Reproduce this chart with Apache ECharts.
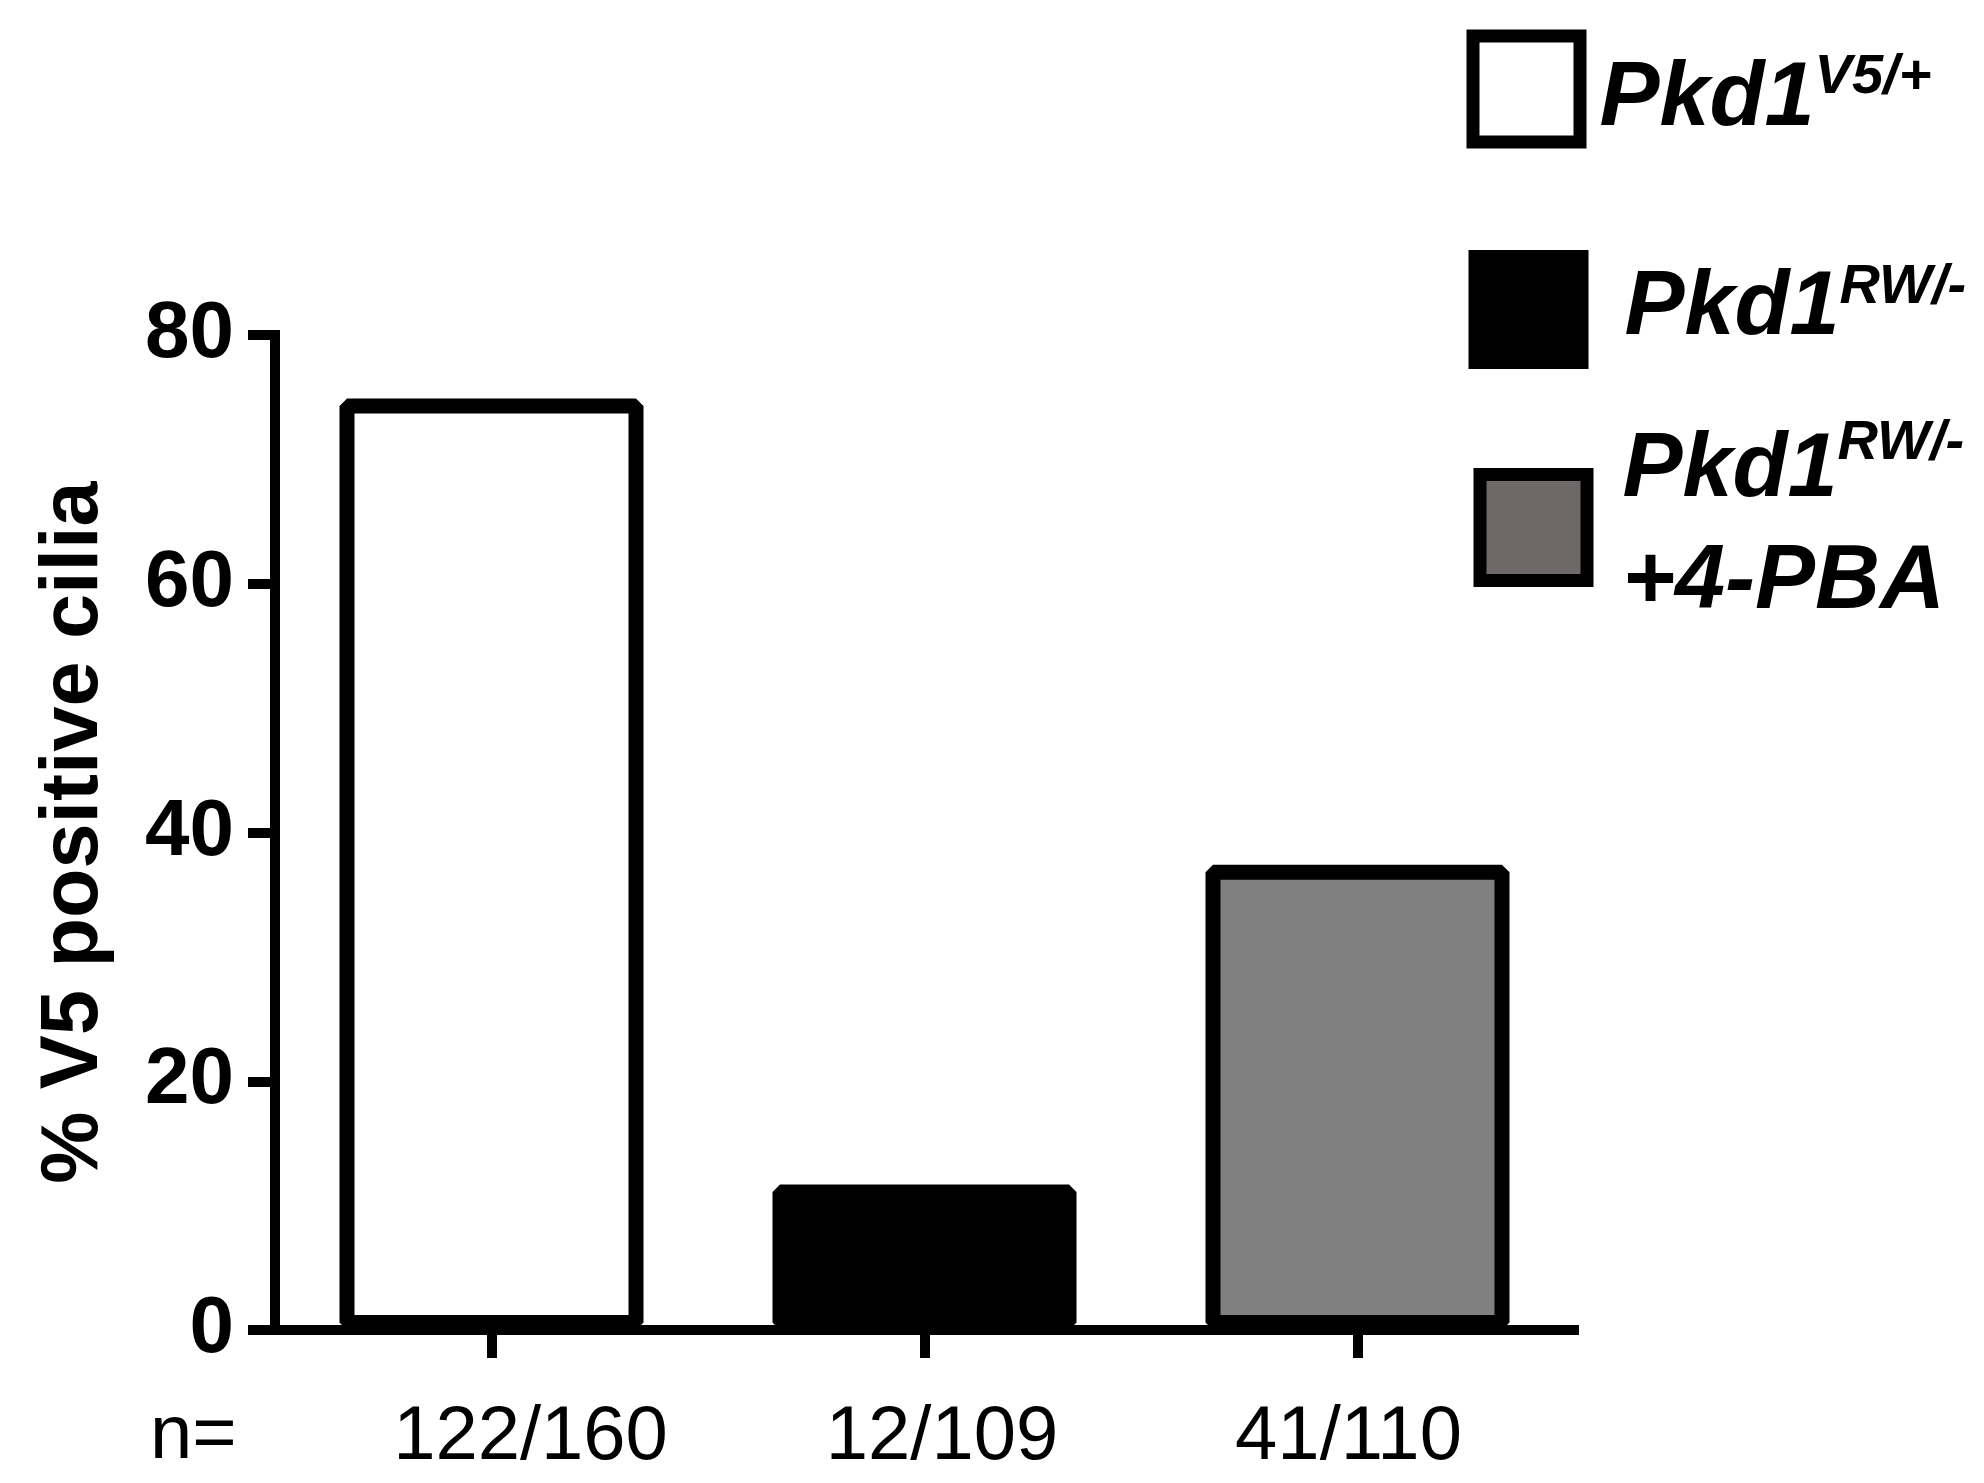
<!DOCTYPE html>
<html>
<head>
<meta charset="utf-8">
<script src="https://cdn.jsdelivr.net/npm/echarts@6/dist/echarts.min.js"></script>
<style>
html,body{margin:0;padding:0;background:#fff;}
#c{width:1984px;height:1483px;}
</style>
</head>
<body>
<div id="c"></div>
<script>
// ---- data ----
var categories = ['122/160', '12/109', '41/110'];
var seriesNames = ['Pkd1V5/+', 'Pkd1RW/-', 'Pkd1RW/- +4-PBA'];
var values = [74.9, 11.7, 37.4];
var yTicks = [0, 20, 40, 60, 80];
var yAxisName = '% V5 positive cilia';
var nPrefix = 'n=';

var FONT = '"Liberation Sans", Arial, Helvetica, sans-serif';
var fills = ['#ffffff', '#000000', '#808080'];
var legendFills = ['#ffffff', '#000000', '#6e6968'];

var chart = echarts.init(document.getElementById('c'), null, {renderer: 'canvas'});

var series = seriesNames.map(function (name, i) {
  return {
    name: name,
    type: 'bar',
    barWidth: 304,
    barGap: '-100%',
    data: categories.map(function (c, j) { return j === i ? values[j] : null; }),
    itemStyle: {
      color: fills[i],
      borderColor: '#000',
      borderWidth: 15,
      borderJoin: 'bevel'
    },
    emphasis: {disabled: true}
  };
});

function legendCfg(idx, left, top, padLeft, padTop, mainLH, supLH, text) {
  return {
    data: [{name: seriesNames[idx], itemStyle: {color: legendFills[idx], borderColor: '#000', borderWidth: 13, borderJoin: 'miter'}}],
    left: left,
    top: top,
    padding: 0,
    orient: 'vertical',
    icon: 'rect',
    itemWidth: 107,
    itemHeight: 106,
    selectedMode: false,
    formatter: function () { return text; },
    textStyle: {
      padding: [padTop, 0, 0, padLeft],
      color: '#000',
      rich: {
        m: {fontFamily: FONT, fontSize: 90, fontWeight: 'bold', fontStyle: 'italic', lineHeight: mainLH, verticalAlign: 'middle', color: '#000'},
        s: {fontFamily: FONT, fontSize: 56, fontWeight: 'bold', fontStyle: 'italic', lineHeight: supLH, verticalAlign: 'top', color: '#000'}
      }
    }
  };
}

var labelPads = [[0, 0, 0, 78], [0, 0, 0, 35], [0, 18, 0, 0]];
var richX = {};
categories.forEach(function (c, i) {
  richX['l' + i] = {fontFamily: FONT, fontSize: 76, color: '#000', padding: labelPads[i]};
});

var option = {
  animation: false,
  backgroundColor: '#fff',
  grid: {left: 275, right: 410, top: 335, bottom: 153, containLabel: false},
  legend: [
    legendCfg(0, 1466.5, 29.5, 14.5, 22, 100, 80, '{m|Pkd1}{s|V5/+}'),
    legendCfg(1, 1468.5, 250, 37.5, 0, 100, 80, '{m|Pkd1}{s|RW/-}'),
    legendCfg(2, 1473.5, 415.5, 30.5, 0, 112, 92, '{m|Pkd1}{s|RW/-}\n{m|+4-PBA}')
  ],
  xAxis: {
    type: 'category',
    data: categories,
    axisLine: {show: true, lineStyle: {color: '#000', width: 10, cap: 'square'}},
    axisTick: {show: true, alignWithLabel: true, length: 28, lineStyle: {color: '#000', width: 10}},
    axisLabel: {
      margin: 70,
      interval: 0,
      formatter: function (v, i) { return '{l' + i + '|' + v + '}'; },
      rich: richX
    },
    splitLine: {show: false}
  },
  yAxis: {
    type: 'value',
    min: yTicks[0],
    max: yTicks[yTicks.length - 1],
    interval: yTicks[1] - yTicks[0],
    name: yAxisName,
    nameLocation: 'middle',
    nameRotate: 90,
    nameGap: 160,
    nameTextStyle: {fontFamily: FONT, fontSize: 81, fontWeight: 'bold', color: '#000'},
    axisLine: {show: true, lineStyle: {color: '#000', width: 10, cap: 'square'}},
    axisTick: {show: true, length: 27, lineStyle: {color: '#000', width: 10}},
    axisLabel: {margin: 41, fontFamily: FONT, fontSize: 80, fontWeight: 'bold', color: '#000'},
    splitLine: {show: false}
  },
  graphic: [{
    type: 'text',
    left: 150,
    top: 1399,
    style: {text: nPrefix, fontFamily: FONT, fontSize: 76, fill: '#000'}
  }],
  series: series
};
chart.setOption(option);
</script>
</body>
</html>
